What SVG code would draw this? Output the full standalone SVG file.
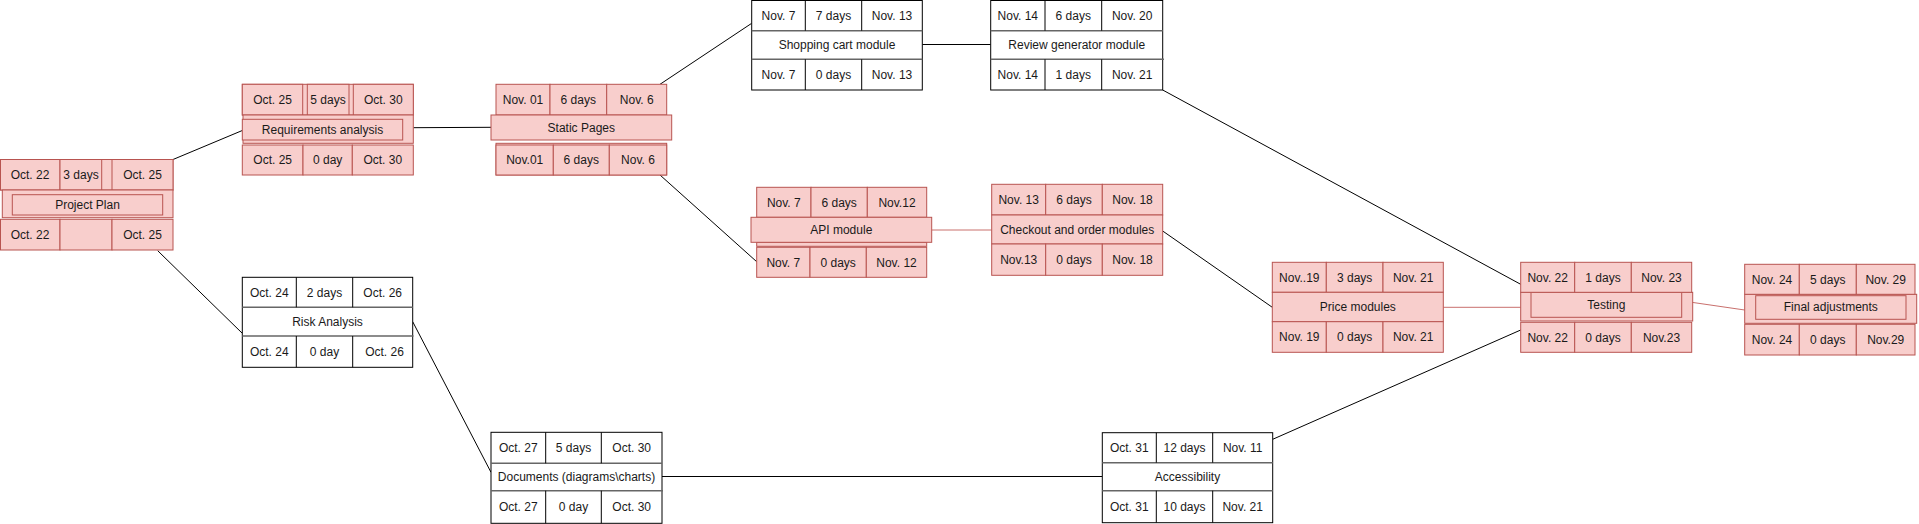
<svg xmlns="http://www.w3.org/2000/svg" width="1919" height="524" viewBox="0 0 1919 524">
<style>
.r{fill:#f8cecc;stroke:#b85450;stroke-width:1}
.w{fill:#ffffff;stroke:#000000;stroke-width:1}
.s{stroke:#666666;stroke-width:1.5;fill:none}
.d{stroke:#000000;stroke-width:1;fill:none}
.t{font-family:"Liberation Sans",Arial,sans-serif;font-size:12px;fill:#1a1a1a;text-anchor:middle}
.c{stroke:#000000;stroke-width:1;fill:none}
.cr{stroke:#c9706d;stroke-width:1;fill:none}
</style>
<rect width="1919" height="524" fill="#ffffff"/>
<g id="connectors">
<line class="c" x1="173" y1="159.5" x2="242.3" y2="130.5"/>
<line class="c" x1="157.7" y1="250.7" x2="242.3" y2="333.3"/>
<line class="c" x1="413.3" y1="127.7" x2="491" y2="127.3"/>
<line class="c" x1="660" y1="84.3" x2="751.7" y2="23.3"/>
<line class="c" x1="922.3" y1="44.5" x2="990.7" y2="44.5"/>
<line class="c" x1="1162.7" y1="90" x2="1520.7" y2="284.3"/>
<line class="c" x1="660" y1="175" x2="756.7" y2="261.7"/>
<line class="cr" x1="931.7" y1="230" x2="991.7" y2="230"/>
<line class="c" x1="1162.7" y1="231" x2="1272.3" y2="307.3"/>
<line class="cr" x1="1443.3" y1="307.3" x2="1520.7" y2="307.3"/>
<line class="c" x1="412.7" y1="321.7" x2="491" y2="472.3"/>
<line class="c" x1="662" y1="476.5" x2="1102.3" y2="476.5"/>
<line class="c" x1="1272.7" y1="439.3" x2="1520.7" y2="330"/>
<line class="cr" x1="1691.7" y1="302.3" x2="1744.7" y2="310"/>
</g>

<g id="project-plan">
<rect class="r" x="0.5" y="159.5" width="172.5" height="30.5"/>
<rect class="r" x="0.5" y="159.5" width="59.5" height="30.5"/>
<rect class="r" x="60" y="159.5" width="41.7" height="30.5"/>
<rect class="r" x="112" y="159.5" width="61" height="30.5"/>
<rect class="r" x="2.3" y="190" width="170.7" height="27.7"/>
<rect class="r" x="12.3" y="194.7" width="150.4" height="20.3"/>
<rect class="r" x="0.5" y="219.3" width="59.5" height="30.7"/>
<rect class="r" x="60" y="219.3" width="52" height="30.7"/>
<rect class="r" x="112" y="219.3" width="61" height="30.7"/>
<text class="t" x="30" y="179">Oct. 22</text>
<text class="t" x="81" y="179">3 days</text>
<text class="t" x="142.5" y="179">Oct. 25</text>
<text class="t" x="87.5" y="209">Project Plan</text>
<text class="t" x="30" y="239">Oct. 22</text>
<text class="t" x="142.5" y="239">Oct. 25</text>
</g>

<g id="requirements-analysis">
<rect class="r" x="242.3" y="84.3" width="171" height="30.7"/>
<rect class="r" x="242.3" y="84.3" width="60.4" height="30.7"/>
<rect class="r" x="307.3" y="84.3" width="41.7" height="30.7"/>
<rect class="r" x="353.3" y="84.3" width="60" height="30.7"/>
<rect class="r" x="243" y="115" width="170.3" height="28.3"/>
<rect class="r" x="242.3" y="119.3" width="160.4" height="20.7"/>
<rect class="r" x="242.3" y="145" width="60.7" height="30"/>
<rect class="r" x="303" y="145" width="49.3" height="30"/>
<rect class="r" x="352.3" y="145" width="61" height="30"/>
<text class="t" x="272.5" y="104">Oct. 25</text>
<text class="t" x="328" y="104">5 days</text>
<text class="t" x="383.3" y="104">Oct. 30</text>
<text class="t" x="322.5" y="134">Requirements analysis</text>
<text class="t" x="272.7" y="164">Oct. 25</text>
<text class="t" x="327.7" y="164">0 day</text>
<text class="t" x="382.8" y="164">Oct. 30</text>
</g>

<g id="static-pages">
<rect class="r" x="496" y="84.3" width="54" height="30.7"/>
<rect class="r" x="550" y="84.3" width="56.7" height="30.7"/>
<rect class="r" x="606.7" y="84.3" width="60" height="30.7"/>
<rect class="r" x="496" y="143.3" width="170.7" height="31.7"/>
<rect class="r" x="496" y="145" width="57.3" height="30"/>
<rect class="r" x="553.3" y="145" width="56" height="30"/>
<rect class="r" x="609.3" y="145" width="57.4" height="30"/>
<rect class="r" x="491" y="115" width="180.7" height="25"/>
<text class="t" x="523" y="104">Nov. 01</text>
<text class="t" x="578.3" y="104">6 days</text>
<text class="t" x="636.7" y="104">Nov. 6</text>
<text class="t" x="581.3" y="132">Static Pages</text>
<text class="t" x="524.7" y="164">Nov.01</text>
<text class="t" x="581.3" y="164">6 days</text>
<text class="t" x="638" y="164">Nov. 6</text>
</g>

<g id="shopping-cart-module">
<rect class="w" x="751.7" y="0.5" width="170.6" height="89.5"/>
<line class="s" x1="751.7" y1="30.7" x2="922.3" y2="30.7"/>
<line class="s" x1="751.7" y1="59.3" x2="922.3" y2="59.3"/>
<line class="d" x1="805.3" y1="0.5" x2="805.3" y2="30.7"/>
<line class="d" x1="861.7" y1="0.5" x2="861.7" y2="30.7"/>
<line class="d" x1="805.3" y1="59.3" x2="805.3" y2="90"/>
<line class="d" x1="861.7" y1="59.3" x2="861.7" y2="90"/>
<text class="t" x="778.5" y="19.5">Nov. 7</text>
<text class="t" x="833.5" y="19.5">7 days</text>
<text class="t" x="892" y="19.5">Nov. 13</text>
<text class="t" x="837" y="49">Shopping cart module</text>
<text class="t" x="778.5" y="79">Nov. 7</text>
<text class="t" x="833.5" y="79">0 days</text>
<text class="t" x="892" y="79">Nov. 13</text>
</g>

<g id="review-generator-module">
<rect class="w" x="990.7" y="0.5" width="172" height="89.5"/>
<line class="s" x1="990.7" y1="30.7" x2="1162.7" y2="30.7"/>
<line class="s" x1="990.7" y1="59.3" x2="1164" y2="59.3"/>
<line class="d" x1="1045" y1="0.5" x2="1045" y2="30.7"/>
<line class="d" x1="1101.7" y1="0.5" x2="1101.7" y2="30.7"/>
<line class="d" x1="1045" y1="59.3" x2="1045" y2="90"/>
<line class="d" x1="1101.7" y1="59.3" x2="1101.7" y2="90"/>
<text class="t" x="1017.8" y="19.5">Nov. 14</text>
<text class="t" x="1073.3" y="19.5">6 days</text>
<text class="t" x="1132.2" y="19.5">Nov. 20</text>
<text class="t" x="1076.7" y="49">Review generator module</text>
<text class="t" x="1017.8" y="79">Nov. 14</text>
<text class="t" x="1073.3" y="79">1 days</text>
<text class="t" x="1132.2" y="79">Nov. 21</text>
</g>

<g id="api-module">
<rect class="r" x="756.7" y="187.3" width="54.3" height="30"/>
<rect class="r" x="811" y="187.3" width="56.3" height="30"/>
<rect class="r" x="867.3" y="187.3" width="59.4" height="30"/>
<rect class="r" x="756.7" y="242.3" width="170" height="4"/>
<rect class="r" x="756.7" y="247.3" width="53.3" height="30"/>
<rect class="r" x="810" y="247.3" width="56.3" height="30"/>
<rect class="r" x="866.3" y="247.3" width="60.4" height="30"/>
<rect class="r" x="751" y="217.3" width="180.7" height="25"/>
<text class="t" x="783.8" y="206.5">Nov. 7</text>
<text class="t" x="839.2" y="206.5">6 days</text>
<text class="t" x="897" y="206.5">Nov.12</text>
<text class="t" x="841.3" y="234">API module</text>
<text class="t" x="783.3" y="266.5">Nov. 7</text>
<text class="t" x="838.2" y="266.5">0 days</text>
<text class="t" x="896.5" y="266.5">Nov. 12</text>
</g>

<g id="checkout-and-order-modules">
<rect class="r" x="991.7" y="184.3" width="54" height="30.7"/>
<rect class="r" x="1045.7" y="184.3" width="56.6" height="30.7"/>
<rect class="r" x="1102.3" y="184.3" width="60.4" height="30.7"/>
<rect class="r" x="991.7" y="215" width="171" height="29"/>
<rect class="r" x="991.7" y="244" width="54" height="31.3"/>
<rect class="r" x="1045.7" y="244" width="56.6" height="31.3"/>
<rect class="r" x="1102.3" y="244" width="60.4" height="31.3"/>
<text class="t" x="1018.7" y="204">Nov. 13</text>
<text class="t" x="1074" y="204">6 days</text>
<text class="t" x="1132.5" y="204">Nov. 18</text>
<text class="t" x="1077.2" y="234">Checkout and order modules</text>
<text class="t" x="1018.7" y="264">Nov.13</text>
<text class="t" x="1074" y="264">0 days</text>
<text class="t" x="1132.5" y="264">Nov. 18</text>
</g>

<g id="price-modules">
<rect class="r" x="1272.3" y="262.3" width="54" height="30"/>
<rect class="r" x="1326.3" y="262.3" width="56.7" height="30"/>
<rect class="r" x="1383" y="262.3" width="60.3" height="30"/>
<rect class="r" x="1272.3" y="292.3" width="171" height="29.4"/>
<rect class="r" x="1272.3" y="321.7" width="54" height="30.6"/>
<rect class="r" x="1326.3" y="321.7" width="56.7" height="30.6"/>
<rect class="r" x="1383" y="321.7" width="60.3" height="30.6"/>
<text class="t" x="1299.3" y="281.5">Nov..19</text>
<text class="t" x="1354.7" y="281.5">3 days</text>
<text class="t" x="1413.2" y="281.5">Nov. 21</text>
<text class="t" x="1357.8" y="311">Price modules</text>
<text class="t" x="1299.3" y="341">Nov. 19</text>
<text class="t" x="1354.7" y="341">0 days</text>
<text class="t" x="1413.2" y="341">Nov. 21</text>
</g>

<g id="testing">
<rect class="r" x="1520.7" y="292.3" width="172" height="28.7"/>
<rect class="r" x="1531" y="292.3" width="150.7" height="25"/>
<rect class="r" x="1520.7" y="262.3" width="54" height="30"/>
<rect class="r" x="1574.7" y="262.3" width="56.6" height="30"/>
<rect class="r" x="1631.3" y="262.3" width="60.4" height="30"/>
<rect class="r" x="1520.7" y="322.3" width="54" height="30"/>
<rect class="r" x="1574.7" y="322.3" width="56.6" height="30"/>
<rect class="r" x="1631.3" y="322.3" width="60.4" height="30"/>
<text class="t" x="1547.7" y="281.5">Nov. 22</text>
<text class="t" x="1603" y="281.5">1 days</text>
<text class="t" x="1661.5" y="281.5">Nov. 23</text>
<text class="t" x="1606.3" y="309">Testing</text>
<text class="t" x="1547.7" y="341.5">Nov. 22</text>
<text class="t" x="1603" y="341.5">0 days</text>
<text class="t" x="1661.5" y="341.5">Nov.23</text>
</g>

<g id="final-adjustments">
<rect class="r" x="1744.7" y="294.3" width="172" height="29"/>
<rect class="r" x="1755.7" y="295.7" width="150.3" height="23.6"/>
<rect class="r" x="1744.7" y="264.3" width="54.6" height="30"/>
<rect class="r" x="1799.3" y="264.3" width="57" height="30"/>
<rect class="r" x="1856.3" y="264.3" width="58.7" height="30"/>
<rect class="r" x="1744.7" y="324.3" width="54.6" height="30.7"/>
<rect class="r" x="1799.3" y="324.3" width="57" height="30.7"/>
<rect class="r" x="1856.3" y="324.3" width="58.7" height="30.7"/>
<text class="t" x="1772" y="283.5">Nov. 24</text>
<text class="t" x="1827.8" y="283.5">5 days</text>
<text class="t" x="1885.7" y="283.5">Nov. 29</text>
<text class="t" x="1830.8" y="311">Final adjustments</text>
<text class="t" x="1772" y="344">Nov. 24</text>
<text class="t" x="1827.8" y="344">0 days</text>
<text class="t" x="1885.7" y="344">Nov.29</text>
</g>

<g id="risk-analysis">
<rect class="w" x="242.3" y="277.3" width="170.4" height="90"/>
<line class="s" x1="242.3" y1="307.3" x2="412.7" y2="307.3"/>
<line class="s" x1="242.3" y1="336" x2="413.5" y2="336"/>
<line class="d" x1="296.3" y1="277.3" x2="296.3" y2="307.3"/>
<line class="d" x1="352.7" y1="277.3" x2="352.7" y2="307.3"/>
<line class="d" x1="296.3" y1="336" x2="296.3" y2="367.3"/>
<line class="d" x1="352.7" y1="336" x2="352.7" y2="367.3"/>
<text class="t" x="269.3" y="296.5">Oct. 24</text>
<text class="t" x="324.5" y="296.5">2 days</text>
<text class="t" x="382.7" y="296.5">Oct. 26</text>
<text class="t" x="327.5" y="325.5">Risk Analysis</text>
<text class="t" x="269.3" y="356">Oct. 24</text>
<text class="t" x="324.5" y="356">0 day</text>
<text class="t" x="384.5" y="356">Oct. 26</text>
</g>

<g id="documents">
<rect class="w" x="491" y="432.3" width="171" height="91"/>
<line class="s" x1="491" y1="463.3" x2="662" y2="463.3"/>
<line class="s" x1="491" y1="490.7" x2="663" y2="490.7"/>
<line class="d" x1="545.7" y1="432.3" x2="545.7" y2="463.3"/>
<line class="d" x1="601.3" y1="432.3" x2="601.3" y2="463.3"/>
<line class="d" x1="545.7" y1="490.7" x2="545.7" y2="523.3"/>
<line class="d" x1="601.3" y1="490.7" x2="601.3" y2="523.3"/>
<text class="t" x="518.3" y="452">Oct. 27</text>
<text class="t" x="573.5" y="452">5 days</text>
<text class="t" x="631.7" y="452">Oct. 30</text>
<text class="t" x="576.5" y="481">Documents (diagrams\charts)</text>
<text class="t" x="518.3" y="511">Oct. 27</text>
<text class="t" x="573.5" y="511">0 day</text>
<text class="t" x="631.7" y="511">Oct. 30</text>
</g>

<g id="accessibility">
<rect class="w" x="1102.3" y="432.7" width="170.4" height="90"/>
<line class="s" x1="1102.3" y1="462.7" x2="1272.7" y2="462.7"/>
<line class="s" x1="1102.3" y1="490.7" x2="1272.7" y2="490.7"/>
<line class="d" x1="1156.3" y1="432.7" x2="1156.3" y2="462.7"/>
<line class="d" x1="1212.7" y1="432.7" x2="1212.7" y2="462.7"/>
<line class="d" x1="1156.3" y1="490.7" x2="1156.3" y2="522.7"/>
<line class="d" x1="1212.7" y1="490.7" x2="1212.7" y2="522.7"/>
<text class="t" x="1129.3" y="452">Oct. 31</text>
<text class="t" x="1184.5" y="452">12 days</text>
<text class="t" x="1242.7" y="452">Nov. 11</text>
<text class="t" x="1187.5" y="481">Accessibility</text>
<text class="t" x="1129.3" y="511">Oct. 31</text>
<text class="t" x="1184.5" y="511">10 days</text>
<text class="t" x="1242.7" y="511">Nov. 21</text>
</g>
</svg>
